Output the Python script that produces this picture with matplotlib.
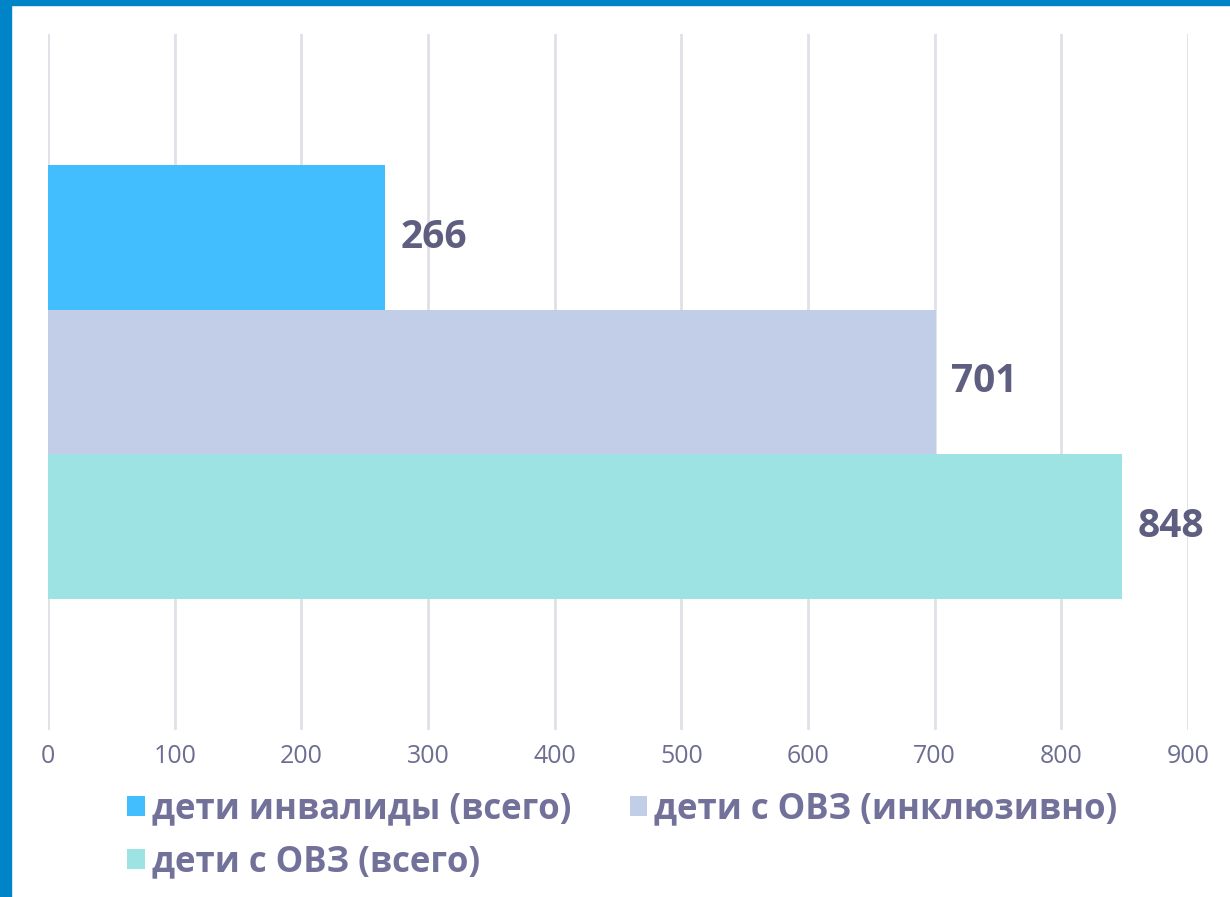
import matplotlib.pyplot as plt
from matplotlib.patches import Rectangle

# данные
series = ['дети инвалиды (всего)', 'дети с ОВЗ (инклюзивно)', 'дети с ОВЗ (всего)']
values = [266, 701, 848]
colors = ['#42BEFF', '#C2CDE8', '#9EE3E3']
xticks = [0, 100, 200, 300, 400, 500, 600, 700, 800, 900]

plt.rcParams['font.family'] = ['Open Sans', 'DejaVu Sans']

fig = plt.figure(figsize=(12.3, 8.97), dpi=100)
ax = fig.add_axes([48 / 1230, 167 / 897, 1140 / 1230, 696 / 897])

# синяя рамка слева и сверху
fig.patches.append(Rectangle((0, 0), 11 / 1230, 1, transform=fig.transFigure,
                             color='#0084C8', zorder=10))
fig.patches.append(Rectangle((0, 1 - 5 / 897), 1, 5 / 897, transform=fig.transFigure,
                             color='#0084C8', zorder=10))

h = 0.208
handles = []
for i, (name, v, c) in enumerate(zip(series, values, colors)):
    y = (1 - i) * h
    b = ax.barh(y, v, height=h, color=c, label=name, zorder=2)
    handles.append(b)
    ax.text(v + 12, y, str(v), va='center', ha='left', fontsize=28,
            fontweight='bold', color='#5E5E80')

ax.set_xlim(0, 900)
ax.set_ylim(-0.5, 0.5)
ax.set_xticks(xticks)
ax.set_yticks([])
ax.tick_params(axis='x', length=0, pad=10, labelsize=18, labelcolor='#6E6E92')
ax.grid(axis='x', color='#E0E0E8', linewidth=2, zorder=0)
for s in ax.spines.values():
    s.set_visible(False)

leg = fig.legend([handles[0], handles[2], handles[1]],
                 [series[0], series[2], series[1]],
                 ncol=2, loc='upper left', bbox_to_anchor=(96 / 1230, 1 - 760 / 897),
                 frameon=False, handlelength=0.5, handleheight=0.5,
                 handletextpad=0.2, columnspacing=1.7, labelspacing=0.5,
                 prop={'size': 25, 'weight': 'bold'})
for t in leg.get_texts():
    t.set_color('#71719A')

fig.savefig('out.png', dpi=100)
